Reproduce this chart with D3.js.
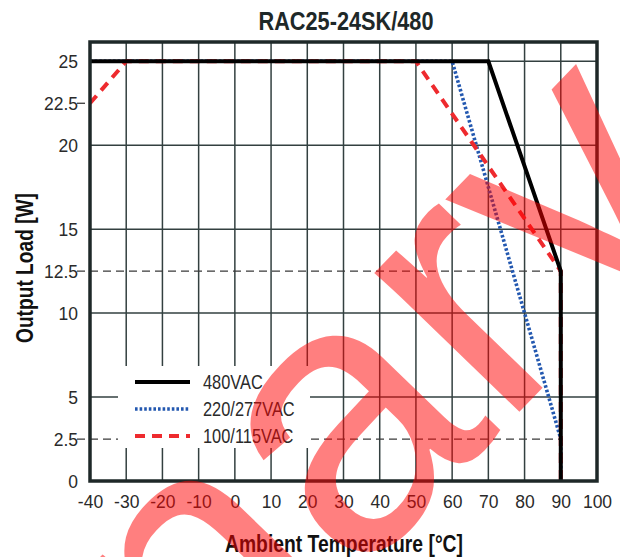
<!DOCTYPE html>
<html>
<head>
<meta charset="utf-8">
<script src="https://cdn.jsdelivr.net/npm/d3@7"></script>
<style>
  body { margin: 0; background: #fff; }
  text { font-family: "Liberation Sans", Arial, sans-serif; }
</style>
</head>
<body>
<div id="chart"></div>
<script>
// chart values
const title = "RAC25-24SK/480";
const seriesNames = ["480VAC", "220/277VAC", "100/115VAC"];
const temps480 = [-40, 70, 90, 90];
const loads480 = [25, 25, 12.5, 0];
const temps277 = [-40, 60, 90, 90];
const loads277 = [25, 25, 2.5, 0];
const temps115 = [-40, -30, 50, 90, 90];
const loads115 = [22.5, 25, 25, 12.5, 0];
const xTicks = [-40, -30, -20, -10, 0, 10, 20, 30, 40, 50, 60, 70, 80, 90, 100];
const yTicks = [0, 2.5, 5, 10, 12.5, 15, 20, 22.5, 25];
const yGrid = [5, 10, 15, 20, 25];
const yDashed = [2.5, 12.5, 22.5];
const watermark = "Preliminary";

const width = 620, height = 557;
const margin = {top: 42, right: 23, bottom: 76, left: 90};

const svg = d3.select("#chart").append("svg")
    .attr("width", width)
    .attr("height", height);

const x = d3.scaleLinear().domain([-40, 100]).range([margin.left, width - margin.right]);
const y = d3.scaleLinear().domain([0, 26.15]).range([height - margin.bottom, margin.top]);

//// grid
const grid = svg.append("g").attr("stroke", "#334040").attr("stroke-width", 1.5);

grid.selectAll(".vgrid")
    .data(xTicks.slice(1, -1))
    .join("line")
    .attr("x1", d => x(d)).attr("x2", d => x(d))
    .attr("y1", y.range()[1]).attr("y2", y.range()[0]);

grid.selectAll(".hgrid")
    .data(yGrid)
    .join("line")
    .attr("x1", x.range()[0]).attr("x2", x.range()[1])
    .attr("y1", d => y(d)).attr("y2", d => y(d));

// dashed helper lines start next to their labels
svg.append("g").selectAll("line")
    .data(yDashed)
    .join("line")
    .attr("x1", x(-40) - 13)
    .attr("x2", d => d == 22.5 ? x(-40) : x(90))
    .attr("y1", d => y(d)).attr("y2", d => y(d))
    .attr("stroke", "#3a3a3a")
    .attr("stroke-width", 1.3)
    .attr("stroke-dasharray", "8,5");

// white legend box hides the grid behind it
svg.append("rect")
    .attr("x", 118).attr("y", 366)
    .attr("width", 192).attr("height", 82)
    .attr("fill", "#fff");

//// axes (labels only)
const xAxis = svg.append("g")
    .attr("transform", `translate(0,${y(0)})`)
    .call(d3.axisBottom(x).tickValues(xTicks).tickSize(0).tickPadding(14).tickFormat(d => d));

const yAxis = svg.append("g")
    .attr("transform", `translate(${x(-40)},0)`)
    .call(d3.axisLeft(y).tickValues(yTicks).tickSize(0).tickPadding(12).tickFormat(d => d));

[xAxis, yAxis].forEach(a => {
  a.select(".domain").remove();
  a.selectAll("text")
    .attr("fill", "#2a2a2a")
    .style("font-family", '"Liberation Sans", Arial, sans-serif')
    .style("font-size", "17.5px");
});
yAxis.selectAll("text").attr("dy", "0.36em");
xAxis.selectAll("text").attr("dy", "0.72em");

//// lines
const line = d3.line().x(d => x(d[0])).y(d => y(d[1]));
const zip = (a, b) => a.map((v, i) => [v, b[i]]);

const series = [
  {name: seriesNames[1], pts: zip(temps277, loads277), color: "#2358b0", w: 3.6, dash: "2.6,2"},
  {name: seriesNames[2], pts: zip(temps115, loads115), color: "#ee2a2e", w: 4, dash: "10,7"},
  {name: seriesNames[0], pts: zip(temps480, loads480), color: "#000", w: 4, dash: null}
];

svg.append("g").selectAll("path")
    .data(series)
    .join("path")
    .attr("d", d => line(d.pts))
    .attr("fill", "none")
    .attr("stroke", d => d.color)
    .attr("stroke-width", d => d.w)
    .attr("stroke-dasharray", d => d.dash);

// frame
svg.append("rect")
    .attr("x", x.range()[0]).attr("y", y.range()[1])
    .attr("width", x.range()[1] - x.range()[0])
    .attr("height", y.range()[0] - y.range()[1])
    .attr("fill", "none")
    .attr("stroke", "#1e2828")
    .attr("stroke-width", 3.5);

//// legend
const legendOrder = [series[2], series[0], series[1]];
const legend = svg.append("g").selectAll("g")
    .data(legendOrder)
    .join("g")
    .attr("transform", (d, i) => `translate(135,${382 + i * 27})`);

legend.append("line")
    .attr("x1", 0).attr("x2", 55)
    .attr("stroke", d => d.color)
    .attr("stroke-width", d => d.w)
    .attr("stroke-dasharray", d => d.dash);

// condensed look: squeeze the text sideways
legend.append("text")
    .attr("transform", "translate(68,0) scale(0.82,1)")
    .attr("dy", "0.36em")
    .attr("fill", "#2a2a2a")
    .style("font-size", "20px")
    .text(d => d.name);

//// titles
svg.append("text")
    .attr("x", 346).attr("y", 30)
    .attr("text-anchor", "middle")
    .attr("font-weight", "bold")
    .attr("fill", "#1e2828")
    .attr("textLength", 175)
    .attr("lengthAdjust", "spacingAndGlyphs")
    .style("font-size", "25px")
    .text(title);

svg.append("text")
    .attr("x", 344).attr("y", 552)
    .attr("text-anchor", "middle")
    .attr("font-weight", "bold")
    .attr("fill", "#111")
    .attr("textLength", 238)
    .attr("lengthAdjust", "spacingAndGlyphs")
    .style("font-size", "23.5px")
    .text("Ambient Temperature [°C]");

svg.append("text")
    .attr("transform", "translate(33,268) rotate(-90)")
    .attr("text-anchor", "middle")
    .attr("font-weight", "bold")
    .attr("fill", "#111")
    .attr("textLength", 150)
    .attr("lengthAdjust", "spacingAndGlyphs")
    .style("font-size", "23.5px")
    .text("Output Load [W]");

//// watermark
svg.append("text")
    .attr("transform", "translate(721,203) rotate(-46)")
    .attr("text-anchor", "end")
    .attr("fill", "#ff0000")
    .attr("fill-opacity", 0.5)
    .style("font-size", "380px")
    .text(watermark);
</script>
</body>
</html>
